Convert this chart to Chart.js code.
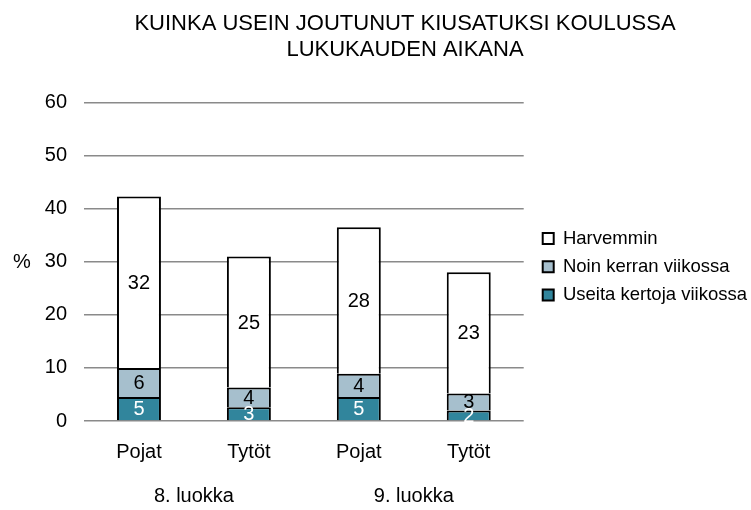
<!DOCTYPE html>
<html><head><meta charset="utf-8">
<script src="https://cdn.jsdelivr.net/npm/chart.js@4/dist/chart.umd.min.js"></script>
<style>html,body{margin:0;padding:0;background:#fff}</style>
</head><body>
<canvas id="c" width="751" height="510"></canvas>
<script>
const categories = ['Pojat', 'Tytöt', 'Pojat', 'Tytöt'];
const groupLabels = ['8. luokka', '9. luokka'];
const seriesNames = ['Useita kertoja viikossa', 'Noin kerran viikossa', 'Harvemmin'];
const useita = [4.5, 2.6, 4.5, 2.0];
const noin = [5.5, 3.7, 4.4, 3.2];
const harvemmin = [32.3, 24.7, 27.6, 22.8];
const yMin = 0, yMax = 60, yStep = 10;
const titleLines = ['KUINKA USEIN JOUTUNUT KIUSATUKSI KOULUSSA', 'LUKUKAUDEN AIKANA'];
const yUnit = '%';

const FONT = '"Liberation Sans", Arial, sans-serif';
Chart.defaults.font.family = FONT;
Chart.defaults.color = '#000';

const labelPlugin = {
  id: 'segLabels',
  afterDatasetsDraw(chart) {
    const ctx = chart.ctx;
    ctx.save();
    ctx.font = '20px ' + FONT;
    ctx.textAlign = 'center';
    ctx.textBaseline = 'middle';
    chart.data.datasets.forEach((ds, di) => {
      const meta = chart.getDatasetMeta(di);
      meta.data.forEach((el, i) => {
        ctx.fillStyle = ds.labelColor;
        ctx.fillText(String(Math.round(ds.data[i])), el.x, (el.y + el.base) / 2 + 1);
      });
    });
    const y = chart.scales.y;
    ctx.font = '20px ' + FONT;
    ctx.fillStyle = '#000';
    ctx.fillText(yUnit, 22, y.getPixelForValue(30) + 1);
    ctx.restore();
  }
};

new Chart(document.getElementById('c'), {
  type: 'bar',
  data: {
    labels: categories,
    datasets: [
      { label: seriesNames[0], data: useita, backgroundColor: '#31859c', borderColor: '#000', borderWidth: 2, labelColor: '#fff' },
      { label: seriesNames[1], data: noin, backgroundColor: '#a6bfcd', borderColor: '#000', borderWidth: 2, labelColor: '#000' },
      { label: seriesNames[2], data: harvemmin, backgroundColor: '#fff', borderColor: '#000', borderWidth: 2, labelColor: '#000' }
    ]
  },
  options: {
    responsive: false,
    animation: false,
    devicePixelRatio: 1,
    layout: { padding: { left: 53, right: -6, top: 0, bottom: 0 } },
    datasets: { bar: { barPercentage: 0.4, categoryPercentage: 1 } },
    plugins: {
      title: {
        display: true,
        text: titleLines,
        font: { size: 22, weight: 'normal', lineHeight: '26px' },
        color: '#000',
        padding: { top: 11, bottom: 39.5 }
      },
      legend: {
        position: 'right',
        fullSize: false,
        reverse: true,
        maxWidth: 320,
        title: { display: true, text: '', font: { size: 10, lineHeight: 1 }, padding: 0 },
        labels: { boxWidth: 11, boxHeight: 11, padding: 9.75, font: { size: 18.5 }, color: '#000' }
      },
      tooltip: { enabled: false }
    },
    scales: {
      x: {
        stacked: true,
        grid: { display: false, drawTicks: false },
        border: { display: false },
        ticks: { padding: 19, font: { size: 20 } },
        afterFit(s) { s.height = 45; }
      },
      x2: {
        type: 'category',
        labels: groupLabels,
        offset: true,
        position: 'bottom',
        grid: { display: false, drawTicks: false },
        border: { display: false },
        ticks: { padding: 18, font: { size: 20 } },
        afterFit(s) { s.height = 44; }
      },
      y: {
        stacked: true,
        min: yMin, max: yMax,
        ticks: { stepSize: yStep, mirror: true, crossAlign: 'far', padding: -39.2, font: { size: 20 } },
        grid: { color: '#8a8a8a', lineWidth: 1.5, drawTicks: false },
        border: { display: false },
        afterFit(s) { s.width = 31; }
      },
      gap: {
        type: 'linear',
        position: 'right',
        display: true,
        grid: { display: false },
        border: { display: false },
        ticks: { display: false },
        afterFit(s) { s.width = 9.25; }
      }
    }
  },
  plugins: [labelPlugin]
});
</script>
</body></html>
